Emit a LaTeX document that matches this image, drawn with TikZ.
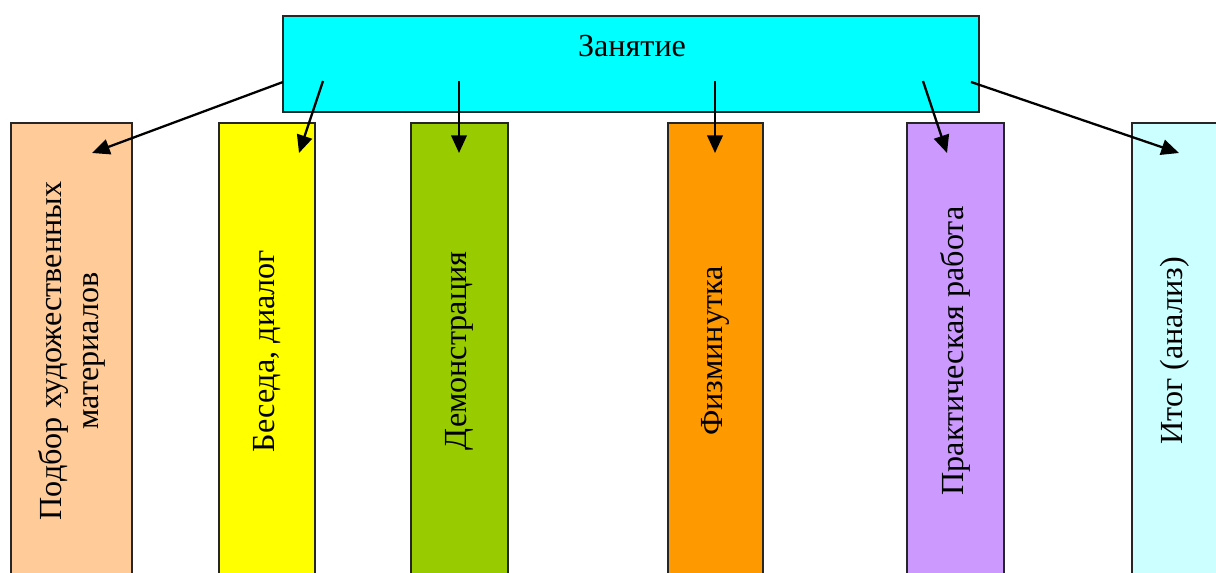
\documentclass[tikz,border=0pt]{standalone}
\usepackage{fontspec}
\setmainfont{Liberation Serif}
\usetikzlibrary{arrows.meta}

\definecolor{zancyan}{HTML}{00FFFF}
\definecolor{podborfill}{HTML}{FFCC99}
\definecolor{besedafill}{HTML}{FFFF00}
\definecolor{demofill}{HTML}{99CC00}
\definecolor{fizfill}{HTML}{FF9900}
\definecolor{praktfill}{HTML}{CC99FF}
\definecolor{itogfill}{HTML}{CCFFFF}

% one pixel of the layout, in pt
\def\px{0.373}

\begin{document}
\begin{tikzpicture}[
    x=\px pt, y=-\px pt,
    topbox/.style={draw=black!85, line width=0.6pt, fill=zancyan, minimum width={696*\px pt}, minimum height={96*\px pt}, inner sep=0pt, outer sep=0pt},
    colbox/.style={draw=black!85, line width=0.6pt, rotate=90, minimum width={456*\px pt}, inner sep=0pt, outer sep=0pt, align=center, font=\fontsize{12}{13.8}\selectfont},
    arr/.style={-{Triangle[length=6.6pt, width=5.8pt]}, line width=0.85pt},
]

% page frame
\clip (0,0) rectangle (1216,572);

% === Top box ===
\node[topbox] (zan) at (631,64) {};
\node[font=\fontsize{12}{13.8}\selectfont] (zantxt) at (632,46) {Занятие};

% === Columns ===
\node[colbox, fill=podborfill, minimum height={121*\px pt}] (podbor) at (71.5,351) {Подбор художественных\\материалов};
\node[colbox, fill=besedafill, minimum height={96*\px pt}] (beseda) at (267,351) {Беседа, диалог};
\node[colbox, fill=demofill, minimum height={97*\px pt}] (demo) at (459.5,351) {Демонстрация};
\node[colbox, fill=fizfill, minimum height={95*\px pt}] (fiz) at (715.5,351) {Физминутка};
\node[colbox, fill=praktfill, minimum height={97*\px pt}] (prakt) at (955.5,351) {Практическая работа};
\node[colbox, fill=itogfill, minimum height={86*\px pt}] (itog) at (1175,351) {Итог (анализ)};

% === Arrow ends ===
\coordinate (s1) at (283,82);  \coordinate (e1) at (92,153);
\coordinate (s2) at (323,81);  \coordinate (e2) at (299,153);
\coordinate (s3) at (459,81);  \coordinate (e3) at (459,153);
\coordinate (s4) at (715,81);  \coordinate (e4) at (715,153);
\coordinate (s5) at (923,81);  \coordinate (e5) at (947,153);
\coordinate (s6) at (971,82);  \coordinate (e6) at (1179,153);

% === Arrows ===
\draw[arr] (s1) -- (e1);
\draw[arr] (s2) -- (e2);
\draw[arr] (s3) -- (e3);
\draw[arr] (s4) -- (e4);
\draw[arr] (s5) -- (e5);
\draw[arr] (s6) -- (e6);

\end{tikzpicture}
\end{document}
